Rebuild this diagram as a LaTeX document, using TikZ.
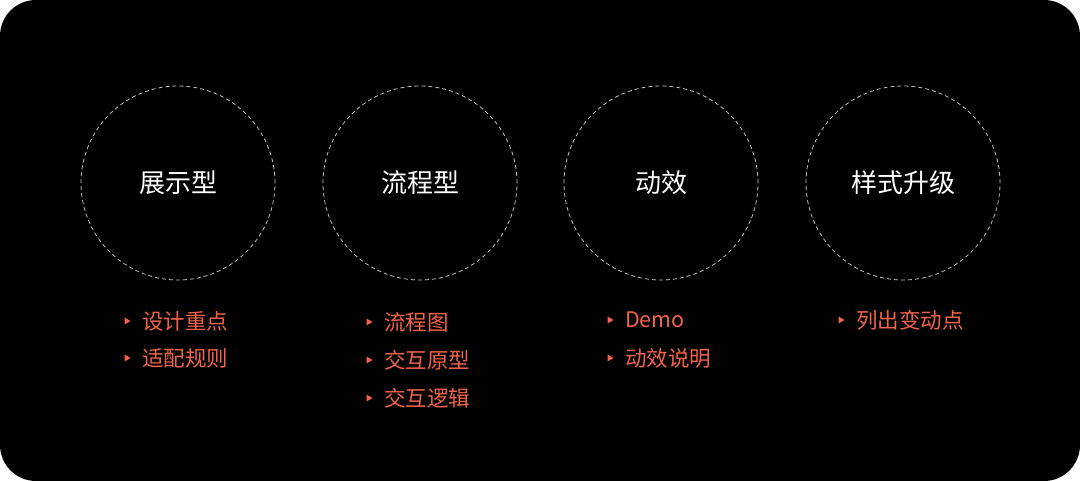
\documentclass[tikz,border=0pt]{standalone}
\usepackage{fontspec}
\newfontfamily\cjk{Noto Sans CJK SC}
\definecolor{redc}{HTML}{F2634B}
\begin{document}
\begin{tikzpicture}[x=1pt,y=-1pt,
  ring/.style={circle,draw=white!75!black,dashed,dash pattern=on 4pt off 3pt,line width=0.8pt,minimum size=194pt,inner sep=0pt,font=\cjk\fontsize{26}{30}\selectfont,text=white},
  item/.style={anchor=west,font=\cjk\fontsize{21.5}{25}\selectfont,text=redc,inner sep=0pt},
  tri/.style={fill=redc}]
\useasboundingbox (0,0) rectangle (1080,481);
\fill[white] (0,0) rectangle (1080,481);
\fill[black,rounded corners=36pt] (0,0) rectangle (1080,481);
\node[ring] (c1) at (178,183) {展示型};
\node[ring] (c2) at (420,183) {流程型};
\node[ring] (c3) at (661,183) {动效};
\node[ring] (c4) at (903,183) {样式升级};
\newcommand\myitem[4]{%
  \fill[tri] (#1-2.5,#2-3.5) -- (#1+3.5,#2) -- (#1-2.5,#2+3.5) -- cycle;
  \node[item] (#3) at (#1+15,#2) {#4};}
\myitem{127}{321}{a1}{设计重点}
\myitem{127}{358}{a2}{适配规则}
\myitem{369}{322}{b1}{流程图}
\myitem{369}{360}{b2}{交互原型}
\myitem{369}{398}{b3}{交互逻辑}
\myitem{610}{320}{d1}{Demo}
\myitem{610}{358}{d2}{动效说明}
\myitem{841}{320}{e1}{列出变动点}
\end{tikzpicture}
\end{document}
